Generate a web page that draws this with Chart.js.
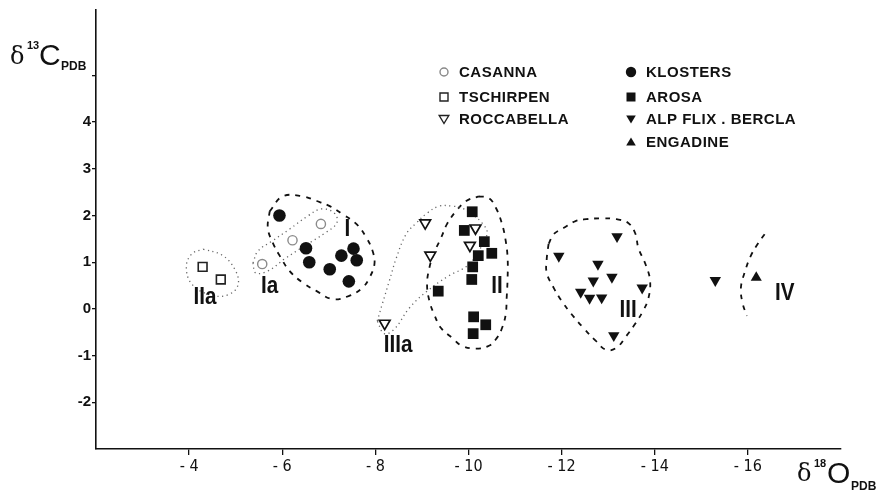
<!DOCTYPE html>
<html><head><meta charset="utf-8">
<script src="https://cdn.jsdelivr.net/npm/chart.js@4.4.1/dist/chart.umd.min.js"></script>
<style>html,body{margin:0;padding:0;background:#fff;}#wrap{width:877px;height:495px;}</style>
</head><body><div id="wrap"><canvas id="c" width="877" height="495"></canvas></div>
<script>
// ---- data (δ18O, δ13C) ----
const casanna = [[-5.57,0.96],[-6.22,1.47],[-6.83,1.82]];
const tschirpen = [[-4.29,0.90],[-4.68,0.63]];
const roccabella = [[-9.07,1.84],[-9.18,1.15],[-8.20,-0.31],[-10.15,1.73],[-10.03,1.36]];
const klosters = [[-5.94,2.00],[-6.51,1.30],[-6.58,1.00],[-7.02,0.85],[-7.27,1.14],[-7.53,1.29],[-7.60,1.04],[-7.43,0.59]];
const arosa = [[-10.08,2.08],[-9.91,1.68],[-10.34,1.44],[-10.21,1.14],[-10.50,1.19],[-10.09,0.90],[-10.07,0.63],[-9.35,0.38],[-10.11,-0.17],[-10.37,-0.34],[-10.10,-0.53]];
const alpFlixBercla = [[-11.94,1.13],[-13.19,1.55],[-12.78,0.96],[-13.08,0.68],[-12.68,0.60],[-12.41,0.36],[-12.60,0.23],[-12.86,0.24],[-13.73,0.45],[-13.12,-0.57],[-15.30,0.61]];
const engadine = [[-16.18,0.67]];

// group outlines (data units)
const contourIIa = [[-4.30,1.28],[-4.71,1.15],[-4.98,0.85],[-5.05,0.51],[-4.83,0.30],[-4.45,0.30],[-4.06,0.53],[-3.94,0.90],[-4.06,1.18],[-4.30,1.28]];
const contourIa = [[-5.37,0.98],[-5.48,1.24],[-5.78,1.45],[-6.16,1.71],[-6.55,1.99],[-6.84,2.14],[-7.12,2.05],[-7.17,1.84],[-6.91,1.62],[-6.48,1.35],[-6.05,1.07],[-5.69,0.81],[-5.43,0.77],[-5.37,0.98]];
const contourI = [[-5.73,2.09],[-6.01,2.41],[-6.44,2.41],[-6.74,2.31],[-7.02,2.20],[-7.29,2.03],[-7.59,1.82],[-7.81,1.52],[-7.94,1.24],[-7.98,0.96],[-7.87,0.66],[-7.72,0.45],[-7.44,0.28],[-7.08,0.21],[-6.74,0.38],[-6.44,0.56],[-6.16,0.81],[-5.95,1.13],[-5.80,1.41],[-5.69,1.73],[-5.73,2.09]];
const contourIIIa = [[-8.04,-0.26],[-8.15,0.11],[-8.30,0.60],[-8.45,1.09],[-8.66,1.60],[-8.88,1.84],[-9.11,2.05],[-9.37,2.20],[-9.65,2.20],[-9.86,2.16],[-10.07,2.03],[-10.29,1.84],[-10.40,1.62],[-10.22,1.24],[-9.97,0.92],[-9.58,0.71],[-9.11,0.38],[-8.73,0.02],[-8.41,-0.43],[-8.19,-0.53],[-8.04,-0.26]];
const contourII = [[-10.22,2.41],[-10.44,2.37],[-10.59,2.16],[-10.72,1.82],[-10.80,1.45],[-10.84,1.09],[-10.84,0.66],[-10.82,0.24],[-10.80,-0.11],[-10.72,-0.41],[-10.61,-0.62],[-10.44,-0.79],[-10.16,-0.85],[-9.86,-0.79],[-9.65,-0.62],[-9.41,-0.41],[-9.26,-0.11],[-9.16,0.17],[-9.11,0.53],[-9.16,0.88],[-9.26,1.20],[-9.41,1.52],[-9.54,1.82],[-9.73,2.09],[-9.95,2.31],[-10.22,2.41]];
const contourIII = [[-11.72,1.39],[-11.68,1.07],[-11.68,0.77],[-11.83,0.45],[-12.00,0.17],[-12.21,-0.11],[-12.47,-0.41],[-12.73,-0.68],[-12.96,-0.88],[-13.18,-0.83],[-13.39,-0.58],[-13.58,-0.32],[-13.75,-0.04],[-13.86,0.21],[-13.90,0.60],[-13.80,0.96],[-13.65,1.30],[-13.58,1.62],[-13.43,1.84],[-13.18,1.92],[-12.86,1.94],[-12.53,1.92],[-12.30,1.88],[-12.04,1.73],[-11.83,1.60],[-11.72,1.39]];
const contourIV = [[-16.36,1.60],[-16.21,1.39],[-16.06,1.13],[-15.94,0.81],[-15.85,0.45],[-15.89,0.11],[-15.98,-0.15]];

const regionLabels = ['I','Ia','II','IIa','III','IIIa','IV'];
const regionLabelX = [-7.40,-5.73,-10.61,-4.34,-13.43,-8.49,-16.79];
const regionLabelY = [1.71,0.49,0.49,0.24,-0.04,-0.79,0.34];

const xTicks = [-4,-6,-8,-10,-12,-14,-16];
const yTicks = [-2,-1,0,1,2,3,4,5];
const yTickLabels = ['-2','-1','0','1','2','3','4',''];

const toXY = a => a.map(p => ({x:p[0], y:p[1]}));
const NARROW = '"Liberation Sans Narrow","DejaVu Sans Condensed","Liberation Sans",sans-serif';
const SANS = '"Liberation Sans",Arial,sans-serif';

function pts(label, data, style, r, fill, stroke, bw, rot){
  return {label, data: toXY(data), showLine:false, pointStyle:style, pointRadius:r, pointHoverRadius:r,
    pointRotation: rot||0, pointBackgroundColor: fill, pointBorderColor: stroke, pointBorderWidth: bw, order:0};
}
function outline(label, data, dashed){
  return {label, data: toXY(data), showLine:true, pointRadius:0, pointHoverRadius:0, tension:0.4,
    borderColor: dashed ? '#111' : '#666', borderWidth: dashed ? 1.8 : 1.3,
    borderDash: dashed ? [5,6] : [1.2,3.5], borderCapStyle:'butt', fill:false, order:1};
}

const legendItems = [
  {text:'CASANNA', col:0, row:0, draw:'circle', filled:false},
  {text:'TSCHIRPEN', col:0, row:1, draw:'square', filled:false},
  {text:'ROCCABELLA', col:0, row:2, draw:'down', filled:false},
  {text:'KLOSTERS', col:1, row:0, draw:'circle', filled:true},
  {text:'AROSA', col:1, row:1, draw:'square', filled:true},
  {text:'ALP FLIX . BERCLA', col:1, row:2, draw:'down', filled:true},
  {text:'ENGADINE', col:1, row:3, draw:'up', filled:true}
];

const overlay = {
  id:'overlay',
  afterDraw(chart){
    const ctx = chart.ctx, xs = chart.scales.x, ys = chart.scales.y;
    ctx.save();
    // region labels (condensed)
    ctx.fillStyle = '#111';
    ctx.font = 'bold 24px ' + SANS;
    ctx.textAlign = 'center'; ctx.textBaseline = 'middle';
    regionLabels.forEach((t,i) => {
      const px = xs.getPixelForValue(regionLabelX[i]), py = ys.getPixelForValue(regionLabelY[i]);
      ctx.save(); ctx.translate(px, py); ctx.scale(0.86, 1); ctx.fillText(t, 0, 0); ctx.restore();
    });
    // legend
    const colX = [444, 631], rowY = [72, 97, 119, 142];
    ctx.textAlign = 'left';
    ctx.font = 'bold 15px ' + SANS;
    try { ctx.letterSpacing = '0.5px'; } catch(e) {}
    legendItems.forEach(it => {
      const x = colX[it.col], y = rowY[it.row];
      ctx.beginPath();
      if (it.draw === 'circle') { ctx.arc(x, y, it.filled ? 5.2 : 4, 0, Math.PI*2); }
      else if (it.draw === 'square') { const s = it.filled ? 9 : 8; ctx.rect(x - s/2, y - s/2, s, s); }
      else if (it.draw === 'down') { ctx.moveTo(x-4.8, y-3.5); ctx.lineTo(x+4.8, y-3.5); ctx.lineTo(x, y+4.5); ctx.closePath(); }
      else { ctx.moveTo(x-4.8, y+3.5); ctx.lineTo(x+4.8, y+3.5); ctx.lineTo(x, y-4.5); ctx.closePath(); }
      if (it.filled) { ctx.fillStyle = '#111'; ctx.fill(); }
      else { ctx.lineWidth = 1.4; ctx.strokeStyle = it.draw === 'circle' ? '#888' : '#222'; ctx.stroke(); }
      ctx.fillStyle = '#111';
      ctx.textBaseline = 'middle';
      ctx.fillText(it.text, x + 15, y + 1);
    });
    try { ctx.letterSpacing = '0px'; } catch(e) {}
    // axis titles
    ctx.textBaseline = 'alphabetic'; ctx.textAlign = 'left'; ctx.fillStyle = '#111';
    ctx.font = '24px "DejaVu Serif",serif'; ctx.fillText('δ', 10, 64);
    ctx.font = 'bold 11px ' + SANS; ctx.fillText('13', 27, 49);
    ctx.font = '30px ' + SANS; ctx.fillText('C', 39, 65);
    ctx.font = 'bold 12px ' + SANS; ctx.fillText('PDB', 61, 70);
    ctx.font = '24px "DejaVu Serif",serif'; ctx.fillText('δ', 797, 481);
    ctx.font = 'bold 11px ' + SANS; ctx.fillText('18', 814, 467);
    ctx.font = '30px ' + SANS; ctx.fillText('O', 827, 483);
    ctx.font = 'bold 12px ' + SANS; ctx.fillText('PDB', 851, 490);
    ctx.restore();
  }
};

new Chart(document.getElementById('c'), {
  type:'scatter',
  data:{ datasets:[
    pts('CASANNA', casanna, 'circle', 4.6, '#fff', '#8a8a8a', 1.4),
    pts('TSCHIRPEN', tschirpen, 'rect', 6.2, '#fff', '#222', 1.6),
    pts('ROCCABELLA', roccabella, 'triangle', 6.2, '#fff', '#111', 1.7, 180),
    pts('KLOSTERS', klosters, 'circle', 6.3, '#111', '#111', 0),
    pts('AROSA', arosa, 'rect', 7.6, '#111', '#111', 0),
    pts('ALP FLIX . BERCLA', alpFlixBercla, 'triangle', 6.6, '#111', '#111', 0, 180),
    pts('ENGADINE', engadine, 'triangle', 6.4, '#111', '#111', 0),
    outline('IIa', contourIIa, false),
    outline('Ia', contourIa, false),
    outline('IIIa', contourIIIa, false),
    outline('I', contourI, true),
    outline('II', contourII, true),
    outline('III', contourIII, true),
    outline('IV', contourIV, true)
  ]},
  options:{
    responsive:false, animation:false, devicePixelRatio:1,
    layout:{ padding:{ top:8, right:36, left:0, bottom:0 } },
    plugins:{ legend:{display:false}, tooltip:{enabled:false} },
    events:[],
    scales:{
      x:{ type:'linear', min:-18, max:-2, reverse:true,
        afterBuildTicks: s => { s.ticks = xTicks.map(v => ({value:v})); },
        afterFit: s => { s.height = 46; },
        ticks:{ callback: v => '- ' + Math.abs(v), color:'#111', font:{family:NARROW, size:16}, padding:2, maxRotation:0, autoSkip:false },
        grid:{ display:true, drawOnChartArea:false, drawTicks:true, tickLength:6, color:'#111', lineWidth:1.3 },
        border:{ display:true, color:'#111', width:1.6 }
      },
      y:{ type:'linear', min:-3, max:6.4,
        afterBuildTicks: s => { s.ticks = yTicks.map(v => ({value:v})); },
        afterFit: s => { s.width = 96; },
        ticks:{ callback: (v) => { const i = yTicks.indexOf(v); return i >= 0 ? yTickLabels[i] : ''; }, color:'#111', font:{family:SANS, size:15, weight:'bold'}, padding:1, autoSkip:false },
        grid:{ display:true, drawOnChartArea:false, drawTicks:true, tickLength:4, color:'#111', lineWidth:1.3 },
        border:{ display:true, color:'#111', width:1.6 }
      }
    }
  },
  plugins:[overlay]
});
</script></body></html>
